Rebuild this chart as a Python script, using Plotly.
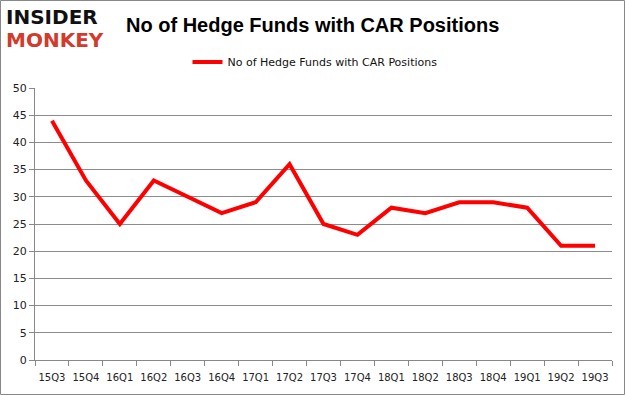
import plotly.graph_objects as go

quarters = ["15Q3", "15Q4", "16Q1", "16Q2", "16Q3", "16Q4", "17Q1", "17Q2", "17Q3",
            "17Q4", "18Q1", "18Q2", "18Q3", "18Q4", "19Q1", "19Q2", "19Q3"]
funds = [44, 33, 25, 33, 30, 27, 29, 36, 25, 23, 28, 27, 29, 29, 28, 21, 21]
series_name = "No of Hedge Funds with CAR Positions"
y_ticks = [0, 5, 10, 15, 20, 25, 30, 35, 40, 45, 50]

L, R, T, B = 35, 13, 88, 35
W, H = 625, 395
PW, PH = W - L - R, H - T - B


def px(x):
    return (x - L) / PW


def py(y):
    return (H - B - y) / PH


fig = go.Figure()
fig.add_trace(go.Scatter(
    x=quarters, y=funds, mode="lines", name=series_name,
    line=dict(color="#ff0000", width=4),
))

fig.update_layout(
    width=W, height=H,
    margin=dict(l=L, r=R, t=T, b=B, autoexpand=False),
    paper_bgcolor="white", plot_bgcolor="white",
    font=dict(family="DejaVu Sans", size=11, color="#222"),
    showlegend=True,
    legend=dict(orientation="h", x=px(315), xanchor="center", y=py(62), yanchor="middle",
                font=dict(size=11, color="#111"), itemwidth=30),
    xaxis=dict(
        type="category", tickson="boundaries", ticks="outside", ticklen=5,
        tickcolor="#888", showline=True, linecolor="#888", showgrid=False,
        tickfont=dict(size=10), tickangle=0, range=[-0.5, 16.5],
        ticklabelstandoff=8,
    ),
    yaxis=dict(
        range=[0, 50], tickvals=y_ticks, showgrid=True, gridcolor="#8c8c8c",
        gridwidth=1, showline=True, linecolor="#888", ticks="outside",
        ticklen=5, tickcolor="#888", zeroline=False, tickfont=dict(size=11),
    ),
)

fig.add_annotation(text="<b>No of Hedge Funds with CAR Positions</b>",
                   xref="paper", yref="paper", x=px(312), y=py(25), xanchor="center",
                   yanchor="middle", showarrow=False,
                   font=dict(size=20, family="Liberation Sans", color="#000"))
fig.add_annotation(text="<b>INSIDER</b>", xref="paper", yref="paper", x=px(4), y=py(17),
                   xanchor="left", yanchor="middle", showarrow=False,
                   font=dict(size=20, family="DejaVu Sans", color="#111"))
fig.add_annotation(text="<b>MONKEY</b>", xref="paper", yref="paper", x=px(4), y=py(40),
                   xanchor="left", yanchor="middle", showarrow=False,
                   font=dict(size=20, family="DejaVu Sans", color="#d23a2b"))
fig.add_shape(type="rect", xref="paper", yref="paper", x0=px(0.5), x1=px(624.5),
              y0=py(394.5), y1=py(0.5), line=dict(width=1, color="#888"))

fig.write_html("out.html", config={"displayModeBar": False},
               post_script="document.body.style.margin='0';document.body.style.overflow='hidden';")
